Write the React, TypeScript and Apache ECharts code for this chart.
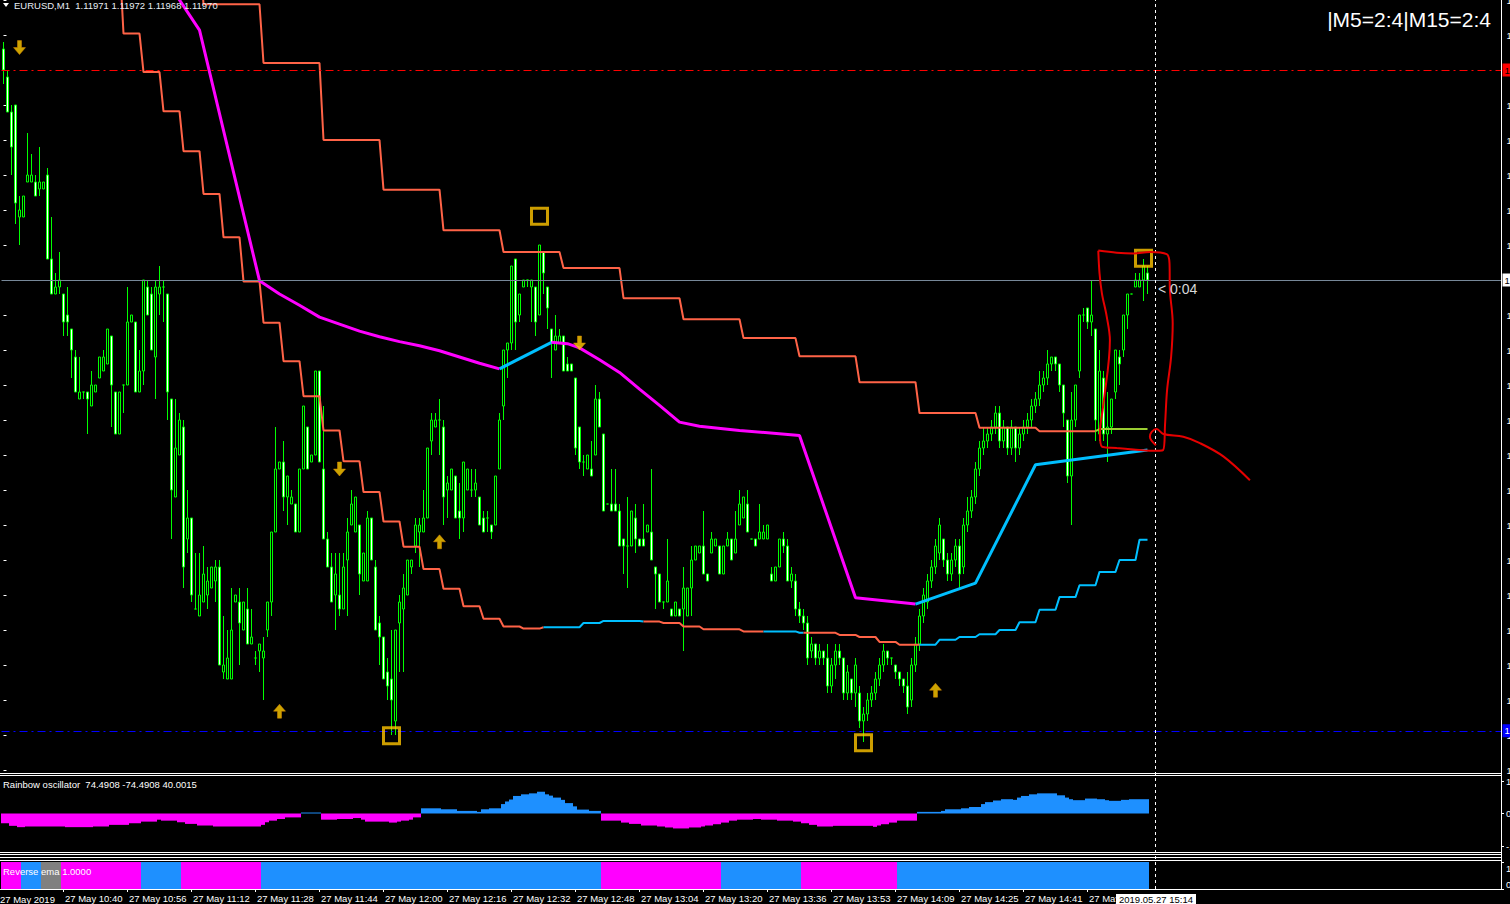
import React, { useEffect, useRef } from 'react';
import * as echarts from 'echarts';

// ---------- data (prices in points of 0.00001 above 1.11900) ----------
const BASE_PRICE = 1.119;
const FIRST_MINUTE = '10:25';
const MISSING_MINUTE = '13:44';
const N_CATS = 375;
const SYMBOL = 'EURUSD,M1';

// [open, close, low, high]
const CANDLES: number[][] = [
  [103,100,98,104],[99,94,94,100],[94,89,85,95],[95,81,78,95],[79,80,75,82],[79,82,79,82],[84,85,84,91],[84,85,84,88],[84,82,82,85],[83,84,82,89],
  [83,84,83,84],[85,73,73,86],[73,68,68,79],[68,69,68,71],[69,70,68,74],[68,64,62,68],[65,64,62,69],[63,60,56,63],[59,54,54,60],[53,54,53,59],
  [54,54,53,54],[54,53,48,54],[52,55,52,57],[54,55,54,55],[56,59,56,59],[57,59,57,60],[58,63,58,63],[62,55,49,62],[54,48,48,54],[48,54,48,54],
  [55,55,51,55],[55,64,55,69],[64,65,64,65],[64,54,54,64],[54,57,54,60],[57,70,55,70],[69,65,65,70],[68,60,60,69],[59,69,53,70],[68,69,65,72],
  [69,69,64,70],[68,54,50,68],[53,40,33,53],[39,46,39,53],[45,50,45,51],[49,29,26,50],[33,36,31,40],[36,25,24,36],[23,23,23,31],[22,25,22,31],
  [24,28,24,32],[25,27,23,29],[26,29,26,29],[27,29,24,30],[29,15,15,30],[14,15,13,22],[13,16,13,20],[13,20,13,26],[24,25,24,25],[24,21,15,26],
  [20,24,20,24],[23,18,18,26],[18,19,18,23],[16,16,15,17],[17,18,14,18],[16,17,10,19],[20,24,19,24],[24,34,22,34],[34,43,34,49],[43,44,43,44],
  [44,39,37,47],[39,42,35,42],[38,39,38,40],[38,34,34,38],[34,43,34,43],[43,52,43,52],[49,43,43,49],[44,45,44,45],[45,57,45,57],[57,44,44,57],
  [43,33,33,52],[33,29,29,34],[29,24,24,31],[25,28,20,31],[25,23,22,31],[23,29,23,31],[30,34,22,36],[35,38,35,40],[34,39,34,39],[35,28,25,35],
  [27,31,27,31],[27,36,27,37],[36,30,30,36],[29,20,20,30],[21,19,15,22],[19,13,13,19],[14,12,10,16],[13,10,5,20],[7,20,5,20],[21,24,14,25],
  [23,26,14,28],[25,30,25,30],[29,30,28,30],[32,35,31,36],[34,35,29,36],[34,36,34,40],[36,46,36,46],[47,50,45,51],[49,50,49,51],[50,50,45,53],
  [49,39,35,50],[40,41,36,42],[40,43,40,43],[42,36,36,42],[37,36,33,41],[36,44,34,44],[40,43,40,43],[40,40,39,43],[40,41,39,43],[39,35,35,39],
  [36,34,34,37],[36,36,34,37],[35,34,33,35],[35,42,35,42],[43,50,43,51],[52,60,50,60],[60,61,56,61],[61,72,60,72],[73,64,60,73],[65,68,64,68],
  [69,70,69,70],[70,70,69,70],[69,70,64,70],[69,64,62,69],[65,75,65,75],[74,71,68,74],[69,66,63,69],[63,61,56,63],[60,62,60,65],[61,62,61,63],
  [62,57,57,62],[58,57,57,59],[58,57,57,58],[56,46,45,56],[49,44,43,49],[44,44,42,45],[43,45,43,45],[43,42,42,47],[45,53,45,55],[53,49,49,54],
  [48,37,37,48],[38,38,38,38],[38,37,37,43],[38,37,37,43],[37,32,32,38],[33,32,28,33],[32,32,26,39],[32,37,32,37],[36,33,31,38],[33,32,32,33],
  [33,32,32,38],[34,35,34,35],[34,30,30,43],[29,28,23,29],[28,24,24,28],[24,24,23,24],[24,27,24,33],[23,22,22,23],[22,24,22,24],[23,22,22,23],
  [23,26,17,29],[22,26,22,26],[26,30,22,32],[30,32,30,32],[31,32,31,32],[32,28,28,37],[28,27,27,28],[31,33,31,34],[32,33,32,33],[32,28,28,32],
  [28,32,28,32],[32,33,32,34],[33,30,30,33],[31,33,31,37],[35,38,35,40],[36,39,36,39],[38,34,34,40],[33,33,33,33],[33,32,32,33],[33,34,33,38],
  [33,34,33,35],[33,35,33,35],[28,27,27,29],[27,29,27,29],[29,33,29,33],[33,32,31,34],[32,27,27,33],[27,28,26,29],[27,23,22,28],[23,22,21,24],
  [22,21,20,23],[21,16,15,22],[17,18,16,19],[18,16,15,18],[16,17,15,18],[17,16,15,17],[16,12,11,18],[12,15,11,16],[15,17,13,18],[17,16,15,18],
  [16,11,10,16],[11,14,10,15],[13,11,10,13],[11,15,9,16],[11,7,6,12],[7,8,4,9],[8,10,7,11],[10,11,9,12],[11,13,10,14],[13,15,12,16],
  [15,17,14,18],[17,16,15,17],[16,16,15,16],[15,14,13,15],[14,13,12,14],[13,12,11,13],[12,9,8,14],[10,15,9,16],[15,18,14,19],[18,22,17,23],
  [22,25,21,26],[24,27,23,28],[27,29,26,30],[29,32,28,33],[31,35,30,36],[33,30,29,33],[30,28,27,31],[28,30,27,31],[30,32,29,33],[32,28,26,33],
  [29,35,28,36],[35,37,34,39],[37,39,36,40],[39,43,38,44],[43,46,42,47],[46,47,45,49],[47,48,46,49],[48,49,47,50],[49,51,48,52],[51,47,46,52],
  [47,49,46,50],[49,46,45,49],[46,49,45,50],[49,46,44,49],[46,48,45,49],[48,49,47,50],[49,50,48,51],[50,52,49,53],[52,53,51,54],[53,55,52,57],
  [55,56,54,57],[56,58,55,60],[58,59,57,59],[59,58,57,59],[58,55,54,58],[55,51,49,55],[50,42,41,50],[42,50,35,54],[50,55,49,55],[57,65,56,65],
  [65,65,64,66],[66,64,63,66],[64,65,62,70],[63,50,47,63],[48,57,47,60],[56,48,47,57],[48,49,44,54],[49,53,48,53],[54,60,53,60],[59,58,55,60],
  [60,65,59,65],[65,68,63,68],[68,68,68,68],[69,70,69,71],[69,70,69,71],[70,72,67,73],[71,70,68,72],
];

// Rainbow oscillator histogram, one value per bar
const OSC: number[] = [
  -30,-30,-38,-38,-42,-42,-40,-40,-40,-40,
  -40,-40,-40,-40,-40,-40,-42,-42,-42,-42,
  -42,-42,-42,-40,-40,-40,-40,-35,-35,-35,
  -35,-35,-30,-30,-30,-25,-25,-25,-25,-19,
  -22,-22,-22,-22,-27,-27,-32,-32,-32,-37,
  -37,-37,-37,-40,-40,-40,-40,-40,-40,-40,
  -40,-40,-40,-40,-40,-35,-27,-22,-22,-17,
  -17,-12,-12,-12,-12,3,3,3,3,3,
  -19,-19,-19,-19,-17,-17,-17,-17,-14,-14,
  -19,-25,-25,-25,-25,-25,-25,-28,-28,-25,
  -22,-22,-19,-12,-12,16,16,16,16,16,
  13,13,13,13,8,8,8,8,8,5,
  13,13,16,16,16,29,37,43,54,54,
  59,59,62,62,67,67,59,55,49,49,
  42,32,32,22,12,12,12,8,8,8,
  -22,-22,-22,-22,-22,-28,-28,-32,-32,-32,
  -37,-37,-37,-37,-40,-40,-43,-43,-46,-46,
  -46,-46,-43,-43,-43,-40,-37,-37,-33,-33,
  -28,-28,-22,-22,-19,-19,-19,-19,-17,-17,
  -19,-19,-19,-19,-22,-22,-22,-22,-25,-25,
  -30,-30,-35,-35,-40,-40,-40,-40,-38,-38,
  -38,-38,-38,-38,-38,-38,-38,-38,-41,-37,
  -33,-33,-28,-28,-22,-22,-22,-22,-22,5,
  5,5,5,5,5,8,13,13,13,13,
  16,16,20,20,20,29,35,35,40,40,
  44,44,44,42,49,54,54,59,59,62,
  62,62,62,62,56,56,49,44,41,41,
  41,46,46,46,44,44,41,39,39,39,
  42,42,44,44,44,44,44,
];
const OSC_TITLE = 'Rainbow oscillator  74.4908 -74.4908 40.0015';

// Reverse ema state: [fromBar, toBar, state]
const REV_SEGMENTS: [number, number, string][] = [
  [0, 4, 'down'], [5, 9, 'up'], [10, 14, 'flat'], [15, 34, 'down'], [35, 44, 'up'], [45, 64, 'down'],
  [65, 149, 'up'], [150, 179, 'down'], [180, 199, 'up'], [200, 223, 'down'], [224, 286, 'up'],
];
const REV_TITLE = 'Reverse ema 1.0000';

// M15 upper stop line: start bar of each M15 block and its level
const UPPER_STARTS = [35, 50, 65, 80, 95, 110, 125, 140, 155, 170, 185, 199, 214, 229, 244, 259, 274];
const UPPER_LEVELS = [118, 109.4, 101.0, 90.0, 82.9, 77.1, 74.0, 71.7, 67.4, 64.4, 61.7, 59.1, 55.4, 51.0, 48.9, 48.4, 48.7];
const UPPER_SEGMENTS: [number, number, string][] = [[35, 273, 'down'], [273, 286, 'neutral']];

// M5 lower stop line
const LOWER_STARTS = [25, 30, 35, 40, 45, 50, 55, 60, 65, 70, 75, 80, 85, 90, 95, 100, 105, 110, 115, 120, 125, 130, 135, 140, 145, 150, 155, 160, 165, 170, 175, 180, 185, 190, 195, 199, 204, 209, 214, 219, 224, 229, 234, 239, 244, 249, 254, 259, 264, 269, 274, 279, 284];
const LOWER_LEVELS = [116, 105.2, 99.7, 94.1, 88.4, 82.3, 76.1, 69.8, 63.9, 58.4, 53.4, 48.5, 44.1, 39.7, 35.5, 31.9, 28.7, 25.9, 23.4, 21.6, 20.5, 20.2, 20.4, 20.4, 21.0, 21.3, 21.3, 21.2, 21.0, 20.5, 20.1, 20.1, 19.8, 19.8, 19.8, 19.6, 19.6, 19.3, 19.0, 18.3, 17.9, 17.9, 18.6, 19.0, 19.4, 20.0, 21.1, 22.9, 24.7, 26.4, 28.3, 30.0, 32.9];
const LOWER_SEGMENTS: [number, number, string][] = [[25, 135, 'down'], [135, 160, 'up'], [160, 190, 'down'], [190, 200, 'up'], [200, 229, 'down'], [229, 286, 'up']];

// M15 moving average vertices
const MA_BARS = [34, 49, 64, 69, 74, 79, 84, 89, 94, 99, 104, 109, 114, 119, 124, 137, 141, 144, 149, 154, 159, 164, 169, 174, 184, 199, 213, 228, 243, 258, 286];
const MA_VALUES = [118.6, 105.7, 69.9, 68.0, 66.4, 64.7, 63.7, 62.7, 61.9, 61.2, 60.6, 59.9, 59.0, 58.1, 57.3, 61.1, 60.9, 60.3, 58.6, 56.8, 54.4, 52.1, 49.7, 49.1, 48.5, 47.8, 24.6, 23.7, 26.7, 43.6, 45.7];
const MA_SEGMENTS: [number, number, string][] = [[34, 124, 'down'], [124, 137, 'up'], [137, 228, 'down'], [228, 286, 'up']];

// signals [bar, level]
const SELL_ARROWS = [[4, 103.2], [84, 43], [144, 61]];
const BUY_ARROWS = [[69, 8.4], [109, 32.6], [233, 11.4]];
const SQUARES = [[134, 79.1], [97, 4.9], [215, 3.9], [285, 73.1]];

// price levels (points)
const BID_LEVEL = 70;
const RED_LEVEL = 100;
const BLUE_LEVEL = 5.6;

// hand drawn annotation [bar (fractional), level]
const NOTE_LOOP = [
  [273.7, 74.2], [278.3, 73.9], [282.5, 73.8], [286.6, 74.0], [290.8, 73.7], [291.5, 72.4], [291.6, 68.6], [292.3, 63.8],
  [291.9, 59.0], [290.9, 54.3], [290.4, 49.5], [289.9, 45.7], [286.6, 45.6], [282.5, 45.8], [278.3, 46.0], [274.6, 46.2],
  [274.1, 48.1], [274.9, 51.9], [276.6, 61.4], [275.8, 64.8], [274.6, 68.1], [274.0, 71.0], [273.7, 74.2],
];
const NOTE_TAIL = [
  [288.1, 46.4], [286.6, 47.6], [287.05, 48.3], [288.3, 48.7], [289.95, 48.0], [294.95, 47.6], [299.1, 46.7], [304.95, 44.8], [311.6, 41.4],
];

const CURSOR_BAR = 288;
const CURSOR_LABEL = '2019.05.27 15:14';
const TIMER_TEXT = '< 0:04';
const MTF_TEXT = '|M5=2:4|M15=2:4';
const DATE_PREFIX = '27 May';
const FIRST_LABEL = '27 May 2019';
const LAST_LABEL_BAR = 271;

// ---------- colours ----------
const C = {
  bg: '#000000',
  candle: '#00ff00',
  orange: '#ff6347',
  magenta: '#ff00ff',
  lineBlue: '#00bfff',
  histBlue: '#1e90ff',
  gray: '#808080',
  yellowGreen: '#9acd32',
  arrow: '#ffcc00',
  square: '#ffc400',
  note: '#e60000',
  text: '#ffffff',
};
const STATE_COLOR: Record<string, string> = { down: C.magenta, up: C.histBlue, flat: C.gray };
const STOP_COLOR: Record<string, string> = { down: C.orange, up: C.lineBlue, neutral: C.yellowGreen };
const MA_COLOR: Record<string, string> = { down: C.magenta, up: C.lineBlue };
const FONT = "'Liberation Sans', Arial, sans-serif";

// ---------- helpers ----------
function buildCategories(): string[] {
  const cats: string[] = [];
  const [h0, m0] = FIRST_MINUTE.split(':').map(Number);
  let m = h0 * 60 + m0;
  while (cats.length < N_CATS) {
    const s = String(Math.floor(m / 60)).padStart(2, '0') + ':' + String(m % 60).padStart(2, '0');
    if (s !== MISSING_MINUTE) cats.push(s);
    m++;
  }
  return cats;
}

function stepData(starts: number[], levels: number[], last: number): (number | null)[] {
  const arr: (number | null)[] = new Array(N_CATS).fill(null);
  for (let k = 0; k < starts.length; k++) {
    const end = k + 1 < starts.length ? starts[k + 1] - 1 : last;
    for (let i = starts[k]; i <= end; i++) arr[i] = levels[k];
  }
  return arr;
}

function sparseData(bars: number[], values: number[]): (number | null)[] {
  const arr: (number | null)[] = new Array(N_CATS).fill(null);
  bars.forEach((b, k) => (arr[b] = values[k]));
  return arr;
}

function slice(arr: (number | null)[], from: number, to: number) {
  return arr.map((v, i) => (i >= from && i <= to ? v : null));
}

const fmtPrice = (p: number) => (BASE_PRICE + p / 1e5).toFixed(5);

function buildOption() {
  const cats = buildCategories();
  const last = CANDLES.length - 1;
  const candleData = CANDLES.map((c) => [c[0], c[1], c[2], c[3]]);
  const upper = stepData(UPPER_STARTS, UPPER_LEVELS, last);
  const lower = stepData(LOWER_STARTS, LOWER_LEVELS, last);
  const ma = sparseData(MA_BARS, MA_VALUES);

  const lineSeries = (data: (number | null)[], color: string, width: number, connect = false) => ({
    type: 'line',
    xAxisIndex: 0,
    yAxisIndex: 0,
    data,
    symbol: 'none',
    showSymbol: false,
    connectNulls: connect,
    silent: true,
    z: 4,
    lineStyle: { color, width },
  });

  const revData = new Array(last + 1).fill(0).map((_, i) => {
    const seg = REV_SEGMENTS.find((s) => i >= s[0] && i <= s[1]);
    return { value: 1, itemStyle: { color: STATE_COLOR[seg ? seg[2] : 'up'] } };
  });

  const lc = CANDLES[last];
  const header = `${SYMBOL}  ${fmtPrice(lc[0])} ${fmtPrice(lc[3])} ${fmtPrice(lc[2])} ${fmtPrice(lc[1])}`;

  const labelIdx = (i: number) => i >= 15 && (i - 15) % 16 === 0 && i <= LAST_LABEL_BAR;
  const dashDot = [8, 4, 2, 4];

  const markLabel = (bg: string, fg: string, text: string) => ({
    show: true,
    position: 'end',
    distance: 1,
    formatter: text,
    backgroundColor: bg,
    color: fg,
    fontSize: 9.5,
    fontFamily: FONT,
    padding: [2, 2, 1, 2],
  });

  const hline = (y: number) => ({ type: 'line', shape: { x1: 0, y1: y, x2: 1501.5, y2: y }, style: { stroke: '#ffffff', lineWidth: 1 }, z: 40, silent: true });
  const gridBase = { outerBoundsMode: 'none', containLabel: false };

  return {
    animation: false,
    backgroundColor: C.bg,
    textStyle: { fontFamily: FONT },
    grid: [
      { ...gridBase, left: 1.5, top: 0, width: 1500, height: 770 },
      { ...gridBase, left: 1, top: 781, width: 1500, height: 65 },
      { ...gridBase, left: 1, top: 862, width: 1500, height: 27 },
      { ...gridBase, left: 1.5, top: 0, width: 1500, height: 889 },
    ],
    xAxis: [
      { type: 'category', gridIndex: 0, data: cats, show: false },
      { type: 'category', gridIndex: 1, data: cats, show: false },
      {
        type: 'category', gridIndex: 2, data: cats, position: 'bottom',
        axisLine: { show: true, lineStyle: { color: '#ffffff', width: 1 } },
        axisTick: { show: true, length: 3, alignWithLabel: true, interval: (i: number) => labelIdx(i), lineStyle: { color: '#ffffff' } },
        axisLabel: {
          show: true, interval: (i: number) => labelIdx(i),
          formatter: (v: string, i: number) => (i === LAST_LABEL_BAR ? DATE_PREFIX : `${DATE_PREFIX} ${v}`),
          color: C.text, fontSize: 9.5, fontFamily: FONT, align: 'left', margin: 4, padding: [0, 0, 0, 2],
        },
        splitLine: { show: false },
      },
      { type: 'category', gridIndex: 3, data: cats, show: false },
      { type: 'value', gridIndex: 0, min: -0.5, max: N_CATS - 0.5, show: false },
    ],
    yAxis: [
      {
        type: 'value', gridIndex: 0, position: 'right', min: 0, max: 110, interval: 5,
        axisLine: { show: false },
        axisTick: { show: true, length: 3, lineStyle: { color: '#ffffff' } },
        axisLabel: { show: true, color: C.text, fontSize: 9.5, fontFamily: FONT, margin: 5, formatter: (v: number) => fmtPrice(v) },
        splitLine: { show: false },
      },
      {
        type: 'value', gridIndex: 1, position: 'right', min: -100, max: 100, interval: 100,
        axisLine: { show: false },
        axisTick: { show: true, length: 3, lineStyle: { color: '#ffffff' } },
        axisLabel: { show: true, color: C.text, fontSize: 9.5, fontFamily: FONT, margin: 5, formatter: (v: number) => v.toFixed(4) },
        splitLine: { show: false },
      },
      {
        type: 'value', gridIndex: 2, position: 'right', min: 0, max: 1, interval: 1,
        axisLine: { show: false },
        axisTick: { show: true, length: 3, lineStyle: { color: '#ffffff' } },
        axisLabel: {
          show: true, color: C.text, fontSize: 9.5, fontFamily: FONT, margin: 5,
          formatter: (v: number) => (v === 1 ? '{t|1.0000}' : '{b|0.0000}'),
          rich: { t: { padding: [12, 0, 0, 0], color: C.text, fontSize: 9.5 }, b: { padding: [0, 0, 10, 0], color: C.text, fontSize: 9.5 } },
        },
        splitLine: { show: false },
      },
      { type: 'value', gridIndex: 3, min: 0, max: 1, show: false },
    ],
    series: [
      {
        type: 'candlestick',
        xAxisIndex: 0,
        yAxisIndex: 0,
        data: candleData,
        barWidth: 2,
        silent: true,
        z: 2,
        itemStyle: {
          color: '#000000', color0: '#ffffff',
          borderColor: C.candle, borderColor0: C.candle, borderColorDoji: C.candle, borderWidth: 1,
        },
        markLine: {
          silent: true,
          symbol: ['none', 'none'],
          animation: false,
          data: [
            { yAxis: BID_LEVEL, lineStyle: { color: '#778899', width: 1, type: 'solid' }, label: markLabel('#ffffff', '#000000', fmtPrice(BID_LEVEL)) },
            { yAxis: RED_LEVEL, lineStyle: { color: '#ff0000', width: 1, type: dashDot }, label: markLabel('#ff0000', '#000000', fmtPrice(RED_LEVEL)) },
            { yAxis: BLUE_LEVEL, lineStyle: { color: '#0000ff', width: 1, type: dashDot }, label: markLabel('#0000ff', '#ffffff', fmtPrice(BLUE_LEVEL)) },
          ],
        },
      },
      ...UPPER_SEGMENTS.map((s) => lineSeries(slice(upper, s[0], s[1]), STOP_COLOR[s[2]], 2)),
      ...LOWER_SEGMENTS.map((s) => lineSeries(slice(lower, s[0], s[1]), STOP_COLOR[s[2]], 2)),
      ...MA_SEGMENTS.map((s) => lineSeries(slice(ma, s[0], s[1]), MA_COLOR[s[2]], 3, true)),
      {
        type: 'scatter', xAxisIndex: 0, yAxisIndex: 0, data: SELL_ARROWS, silent: true, z: 6,
        symbol: 'path://M4,0 L8,0 L8,7 L12,7 L6,14 L0,7 L4,7 Z', symbolSize: [12, 14],
        itemStyle: { color: C.arrow, borderColor: '#e08a00', borderWidth: 0.6 },
      },
      {
        type: 'scatter', xAxisIndex: 0, yAxisIndex: 0, data: BUY_ARROWS, silent: true, z: 6,
        symbol: 'path://M6,0 L12,7 L8,7 L8,14 L4,14 L4,7 L0,7 Z', symbolSize: [12, 14],
        itemStyle: { color: C.arrow, borderColor: '#e08a00', borderWidth: 0.6 },
      },
      {
        type: 'scatter', xAxisIndex: 0, yAxisIndex: 0, data: SQUARES, silent: true, z: 6,
        symbol: 'rect', symbolSize: 16,
        itemStyle: { color: 'rgba(0,0,0,0)', borderColor: C.square, borderWidth: 3 },
      },
      {
        type: 'line', xAxisIndex: 4, yAxisIndex: 0, data: NOTE_LOOP, symbol: 'none', smooth: 0.35, silent: true, z: 7,
        lineStyle: { color: C.note, width: 2 }, clip: false,
      },
      {
        type: 'line', xAxisIndex: 4, yAxisIndex: 0, data: NOTE_TAIL, symbol: 'none', smooth: 0.35, silent: true, z: 7,
        lineStyle: { color: C.note, width: 2 }, clip: false,
      },
      {
        type: 'bar', xAxisIndex: 1, yAxisIndex: 1, silent: true, barWidth: '100%', barCategoryGap: '0%',
        data: OSC.map((v) => ({ value: v, itemStyle: { color: v >= 0 ? C.histBlue : C.magenta } })),
      },
      {
        type: 'bar', xAxisIndex: 2, yAxisIndex: 2, silent: true, barWidth: '100%', barCategoryGap: '0%',
        data: revData,
      },
      {
        type: 'line', xAxisIndex: 3, yAxisIndex: 3, data: cats.map(() => null), symbol: 'none', silent: true,
        markLine: {
          silent: true, symbol: ['none', 'none'], animation: false, label: { show: false },
          lineStyle: { color: '#ffffff', width: 1, type: [3, 3] },
          data: [{ xAxis: cats[CURSOR_BAR] }],
        },
      },
    ],
    graphic: [
      hline(773.5), hline(775.5), hline(852.5), hline(854.5), hline(857.5), hline(860.5), hline(889.5),
      { type: 'line', shape: { x1: 1501.5, y1: 0, x2: 1501.5, y2: 890 }, style: { stroke: '#ffffff', lineWidth: 1 }, z: 40, silent: true },
      { type: 'polygon', shape: { points: [[3, 3], [9, 3], [6, 7]] }, style: { fill: '#ffffff' }, z: 50, silent: true },
      { type: 'text', x: 14, y: 5, style: { text: header, fill: '#e8eef5', font: `9.5px ${FONT}`, verticalAlign: 'middle', align: 'left' }, z: 50, silent: true },
      { type: 'text', x: 1491, y: 19, style: { text: MTF_TEXT, fill: '#ffffff', font: `21px ${FONT}`, verticalAlign: 'middle', align: 'right' }, z: 50, silent: true },
      { type: 'text', x: 1158, y: 289, style: { text: TIMER_TEXT, fill: '#d8d8d8', font: `14px ${FONT}`, verticalAlign: 'middle', align: 'left' }, z: 50, silent: true },
      { type: 'text', x: 3, y: 784, style: { text: OSC_TITLE, fill: '#ffffff', font: `9.5px ${FONT}`, verticalAlign: 'middle', align: 'left' }, z: 50, silent: true },
      { type: 'text', x: 3, y: 871, style: { text: REV_TITLE, fill: '#ffffff', font: `9.5px ${FONT}`, verticalAlign: 'middle', align: 'left' }, z: 50, silent: true },
      { type: 'text', x: 0, y: 899, style: { text: FIRST_LABEL, fill: '#ffffff', font: `9.5px ${FONT}`, verticalAlign: 'middle', align: 'left' }, z: 50, silent: true },
      { type: 'rect', shape: { x: 1116, y: 894, width: 80, height: 11 }, style: { fill: '#ffffff' }, z: 60, silent: true },
      { type: 'text', x: 1156, y: 899.5, style: { text: CURSOR_LABEL, fill: '#000000', font: `9.5px ${FONT}`, verticalAlign: 'middle', align: 'center' }, z: 61, silent: true },
    ],
  };
}

export default function App() {
  const ref = useRef<HTMLDivElement>(null);
  useEffect(() => {
    document.body.style.margin = '0';
    document.body.style.background = '#000';
    const chart = echarts.init(ref.current as HTMLDivElement, null, { renderer: 'svg' });
    chart.setOption(buildOption() as any);
    return () => chart.dispose();
  }, []);
  return <div ref={ref} style={{ position: 'fixed', left: 0, top: 0, width: 1510, height: 904, background: '#000', overflow: 'hidden' }} />;
}
